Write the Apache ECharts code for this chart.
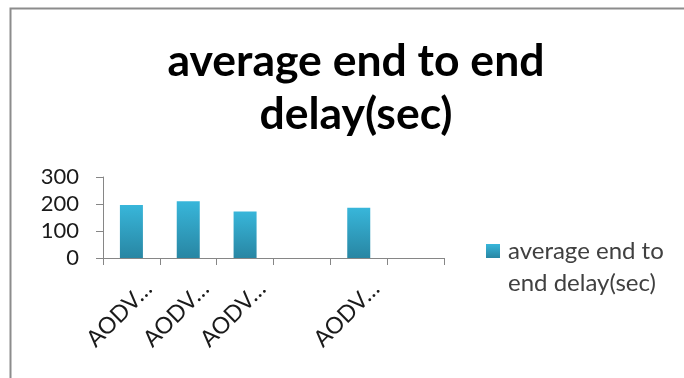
<!DOCTYPE html>
<html>
<head>
<meta charset="utf-8">
<script src="https://cdn.jsdelivr.net/npm/echarts@6/dist/echarts.min.js"></script>
<style>html,body{margin:0;padding:0;background:#fff;}#c{width:684px;height:378px;}</style>
</head>
<body>
<div id="c"></div>
<script>
const titleText = "average end to end\ndelay(sec)";
const seriesName = "average end to end delay(sec)";
const categories = ["AODV…", "AODV…", "AODV…", "", "AODV…", ""];
const delayValues = [196, 210, 172, null, 186, null];
const yTicks = [0, 100, 200, 300];

const chart = echarts.init(document.getElementById('c'), null, {renderer: 'canvas'});
const barGrad = new echarts.graphic.LinearGradient(0, 0, 0, 1, [
  {offset: 0, color: '#38b6da'},
  {offset: 1, color: '#2886a3'}
]);
chart.setOption({
  animation: false,
  backgroundColor: '#ffffff',
  graphic: [{
    type: 'rect', left: 8, top: 6,
    shape: {width: 800, height: 500},
    style: {fill: 'none', stroke: '#8c8c8c', lineWidth: 2},
    silent: true
  }],
  title: {
    text: titleText,
    left: 351,
    textAlign: 'center',
    top: 30,
    textStyle: {fontFamily: 'Lato', fontWeight: 'bold', fontSize: 44.5, color: '#000', lineHeight: 53}
  },
  legend: {
    left: 481, top: 202,
    icon: 'rect', itemWidth: 14, itemHeight: 14, itemGap: 0,
    formatter: function () { return '{s| }\n{t|average end to}\n{t|end delay(sec)}'; },
    textStyle: {
      fontFamily: 'Lato', fontSize: 24, color: '#404040',
      rich: {
        s: {fontSize: 24, lineHeight: 32},
        t: {fontFamily: 'Lato', fontSize: 24, color: '#404040', lineHeight: 32, padding: [0, 0, 0, 3]}
      }
    },
    data: [seriesName]
  },
  grid: {left: 103, right: 240, top: 177, bottom: 120, containLabel: false},
  xAxis: {
    type: 'category',
    data: categories,
    axisLine: {lineStyle: {color: '#868686', width: 1}},
    axisTick: {show: true, length: 7, lineStyle: {color: '#868686'}},
    axisLabel: {rotate: 45, interval: 0, align: 'center', verticalAlign: 'middle', margin: 44,
      formatter: function (v) { return v ? '{t|' + v + '}{s|}' : ''; },
      rich: {
        t: {fontFamily: 'Lato', fontSize: 23, color: '#1a1a1a'},
        s: {width: 34, height: 10}
      }}
  },
  yAxis: {
    type: 'value',
    min: 0, max: 300, interval: 100,
    axisLine: {show: true, lineStyle: {color: '#868686', width: 1}},
    axisTick: {show: true, length: 7, lineStyle: {color: '#868686'}},
    splitLine: {show: false},
    axisLabel: {fontFamily: 'Lato', fontSize: 22, color: '#1a1a1a', margin: 24,
      formatter: function (v) { return yTicks.indexOf(v) >= 0 ? String(v) : ''; }}
  },
  series: [{
    name: seriesName,
    type: 'bar',
    data: delayValues,
    barWidth: 23,
    itemStyle: {color: barGrad}
  }]
});
</script>
</body>
</html>
